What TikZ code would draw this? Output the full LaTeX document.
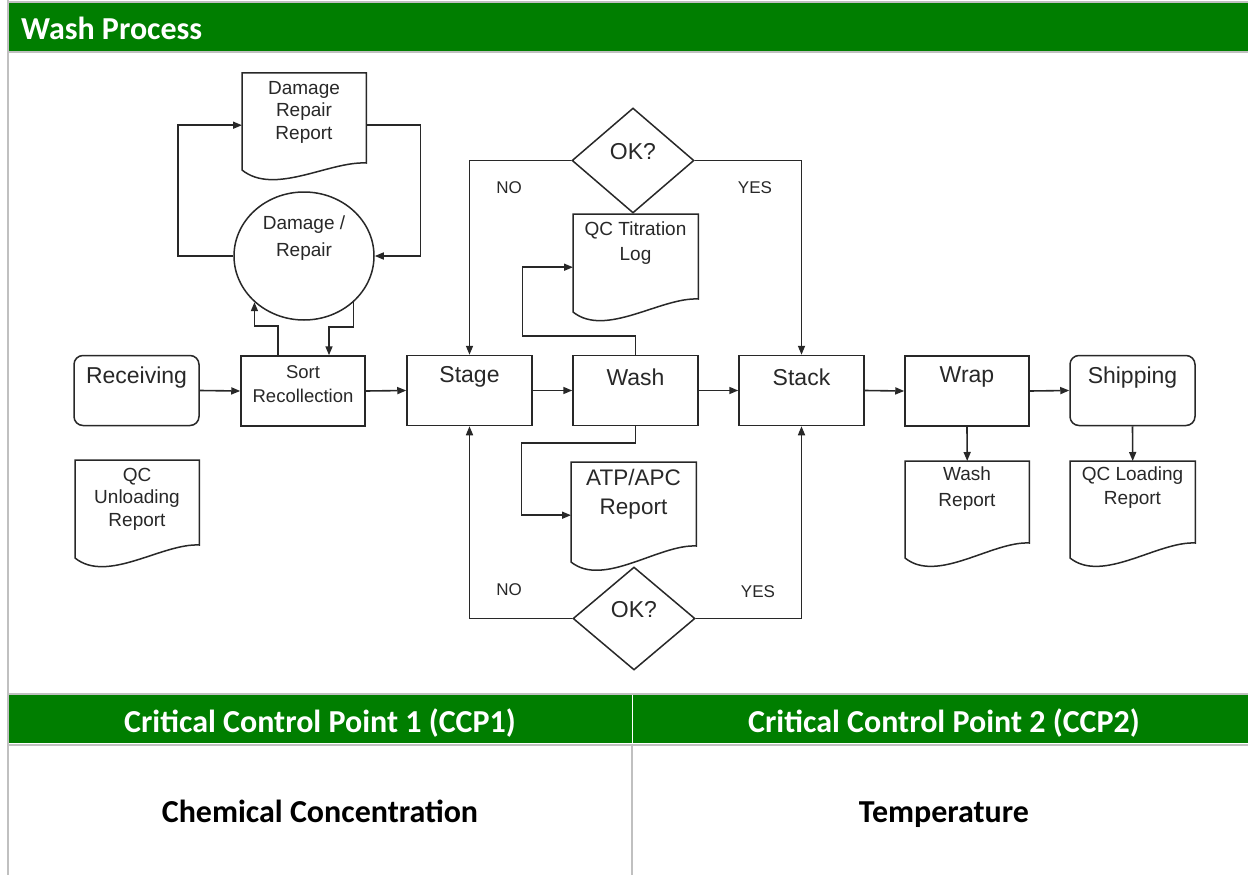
\documentclass[tikz,border=0pt]{standalone}
\usepackage{fontspec}
\setmainfont{Liberation Sans}
\newfontfamily\calib{Carlito}
\usetikzlibrary{shapes.geometric,arrows.meta,calc}
\definecolor{hdrgreen}{RGB}{0,126,0}
\definecolor{bordergray}{RGB}{192,192,192}
\definecolor{ink}{RGB}{40,40,40}
\newcommand\docsh[7]{% name, left x, top y, width, node height, left-end depth, right-end depth
  \node[inner sep=0pt, minimum width=#4pt, minimum height=#5pt, anchor=north west] (#1) at (#2,#3) {};
  \draw[shp] (#1.north west) -- (#1.north east) -- ++(0,#7)
    .. controls +(-0.3*#4,-2) and +(0.26*#4,26) .. ($(#1.north west)+(0,#6)$) -- cycle;
}
\begin{document}
\begin{tikzpicture}[x=1pt,y=-1pt,
  shp/.style={draw=ink, line width=1.5pt, fill=white, inner sep=0pt},
  proc/.style={shp, rectangle, minimum width=125pt, minimum height=70pt},
  term/.style={proc, rounded corners=9pt},
  conn/.style={draw=ink, line width=1.6pt, -{Triangle[length=9pt,width=7pt]}},
  big/.style={font=\fontsize{23}{26}\selectfont, text=ink, inner sep=0pt},
  small/.style={font=\fontsize{19}{22.5}\selectfont, text=ink, align=center, inner sep=0pt},
  yn/.style={font=\fontsize{17}{20}\selectfont, text=ink, inner sep=0pt},
  hdr/.style={font=\calib\bfseries\fontsize{32}{36}\selectfont, text=white, inner sep=0pt},
  cell/.style={font=\calib\bfseries\fontsize{32}{36}\selectfont, text=black, inner sep=0pt},
  rule/.style={draw=bordergray, line width=2pt}
]
\useasboundingbox (0,0) rectangle (1248,875);
\fill[white] (0,0) rectangle (1248,875);

% ---------- frame and header ----------
\fill[hdrgreen] (9,3) rectangle (1248,51);
\draw[rule] (8,0) -- (8,875);
\draw[rule] (8,2) -- (1248,2);
\draw[rule] (8,52) -- (1248,52);
\node[hdr, anchor=base west] (title) at (21,40) {Wash Process};

% ---------- bottom table ----------
\draw[rule] (8,694) -- (1248,694);
\fill[hdrgreen] (9,695) rectangle (1248,743);
\draw[rule] (8,744.5) -- (1248,744.5);
\draw[white, line width=1pt] (632,695) -- (632,743);
\draw[bordergray, line width=1.2pt] (632,745.5) -- (632,875);
\node[hdr, anchor=base] (ccp1) at (320,732) {Critical Control Point 1 (CCP1)};
\node[hdr, anchor=base] (ccp2) at (944,732) {Critical Control Point 2 (CCP2)};
\node[cell, anchor=base] (chem) at (320,822) {Chemical Concentration};
\node[cell, anchor=base] (temp) at (944,822) {Temperature};

% ---------- process boxes ----------
\node[term] (recv) at (136.5,390.5) {};
\node[big] at (136.5,378) {Receiving};
\node[proc, minimum width=124pt] (sort) at (303,391) {};
\node[small, font=\fontsize{18.5}{24}\selectfont] at (303,384) {Sort\\Recollection};
\node[proc] (stage) at (469.5,390.5) {};
\node[big] at (469.5,377) {Stage};
\node[proc] (wash) at (635.5,390.5) {};
\node[big] at (635.5,377) {Wash};
\node[proc] (stack) at (801.5,390.5) {};
\node[big] at (801.5,377) {Stack};
\node[proc, minimum width=124pt] (wrap) at (967,391) {};
\node[big] at (967,377) {Wrap};
\node[term] (ship) at (1132.5,390.5) {};
\node[big] at (1132.5,378) {Shipping};

% ---------- damage / repair ----------
\node[shp, ellipse, minimum width=140pt, minimum height=128pt] (circ) at (304,256) {};
\node[small, font=\fontsize{19}{27}\selectfont] at (304,238) {Damage /\\Repair};
\docsh{dr}{242}{73}{124}{104}{97}{90}
\node[small] at (304,112) {Damage\\Repair\\Report};

% ---------- documents ----------
\docsh{qcu}{75}{460}{124}{100}{98}{85}
\node[small] at (137,499) {QC\\Unloading\\Report};
\docsh{qct}{573}{214}{125}{106}{98}{85}
\node[small, font=\fontsize{19}{25}\selectfont] at (635.5,243) {QC Titration\\Log};
\docsh{atp}{571}{462}{125}{106}{100}{84}
\node[small, font=\fontsize{22.5}{29}\selectfont] at (633.5,494) {ATP/APC\\Report};
\docsh{wrep}{905}{461}{124}{100}{97}{82}
\node[small, font=\fontsize{19}{26}\selectfont] at (967,489) {Wash\\Report};
\docsh{qcl}{1070}{461}{125}{100}{97}{82}
\node[small, font=\fontsize{19}{24}\selectfont] at (1132.5,488) {QC Loading\\Report};

% ---------- decisions ----------
\node[shp, diamond, minimum width=122pt, minimum height=105pt] (ok1) at (633,160.5) {};
\node[big] at (633,152) {OK?};
\node[shp, diamond, minimum width=122pt, minimum height=103pt] (ok2) at (634,618.5) {};
\node[big] at (634,610) {OK?};
\node[yn] (no1) at (509,188) {NO};
\node[yn] (yes1) at (755,188) {YES};
\node[yn] (no2) at (509,590) {NO};
\node[yn] (yes2) at (758,592) {YES};

% ---------- connectors ----------
\draw[conn] (recv.east) -- (sort.west);
\draw[conn] (sort.east) -- (stage.west);
\draw[conn] (stage.east) -- (wash.west);
\draw[conn] (wash.east) -- (stack.west);
\draw[conn] (stack.east) -- (wrap.west);
\draw[conn] (wrap.east) -- (ship.west);
\draw[conn] (wrap.south) -- (wrep.north);
\draw[conn] (ship.south) -- (qcl.north);

\draw[conn] (circ.west) -- ++(-55,0) |- (dr.west);
\draw[conn] (dr.east) -- ++(54,0) |- (circ.east);
\draw[conn] ($(sort.north)+(-25,0)$) -- ++(0,-29) -| (circ.223);
\draw[conn] (circ.317) -- ++(0,25) -| ($(sort.north)+(26,0)$);

\draw[conn] (ok1.west) -| (stage.north);
\draw[conn] (ok1.east) -| (stack.north);
\draw[conn] (ok2.west) -| (stage.south);
\draw[conn] (ok2.east) -| (stack.south);

\draw[conn] (wash.north) -- ++(0,-19) -- ++(-113,0) |- (qct.west);
\draw[conn] (wash.south) -- ++(0,17) -- ++(-114,0) |- (atp.west);
\end{tikzpicture}
\end{document}
